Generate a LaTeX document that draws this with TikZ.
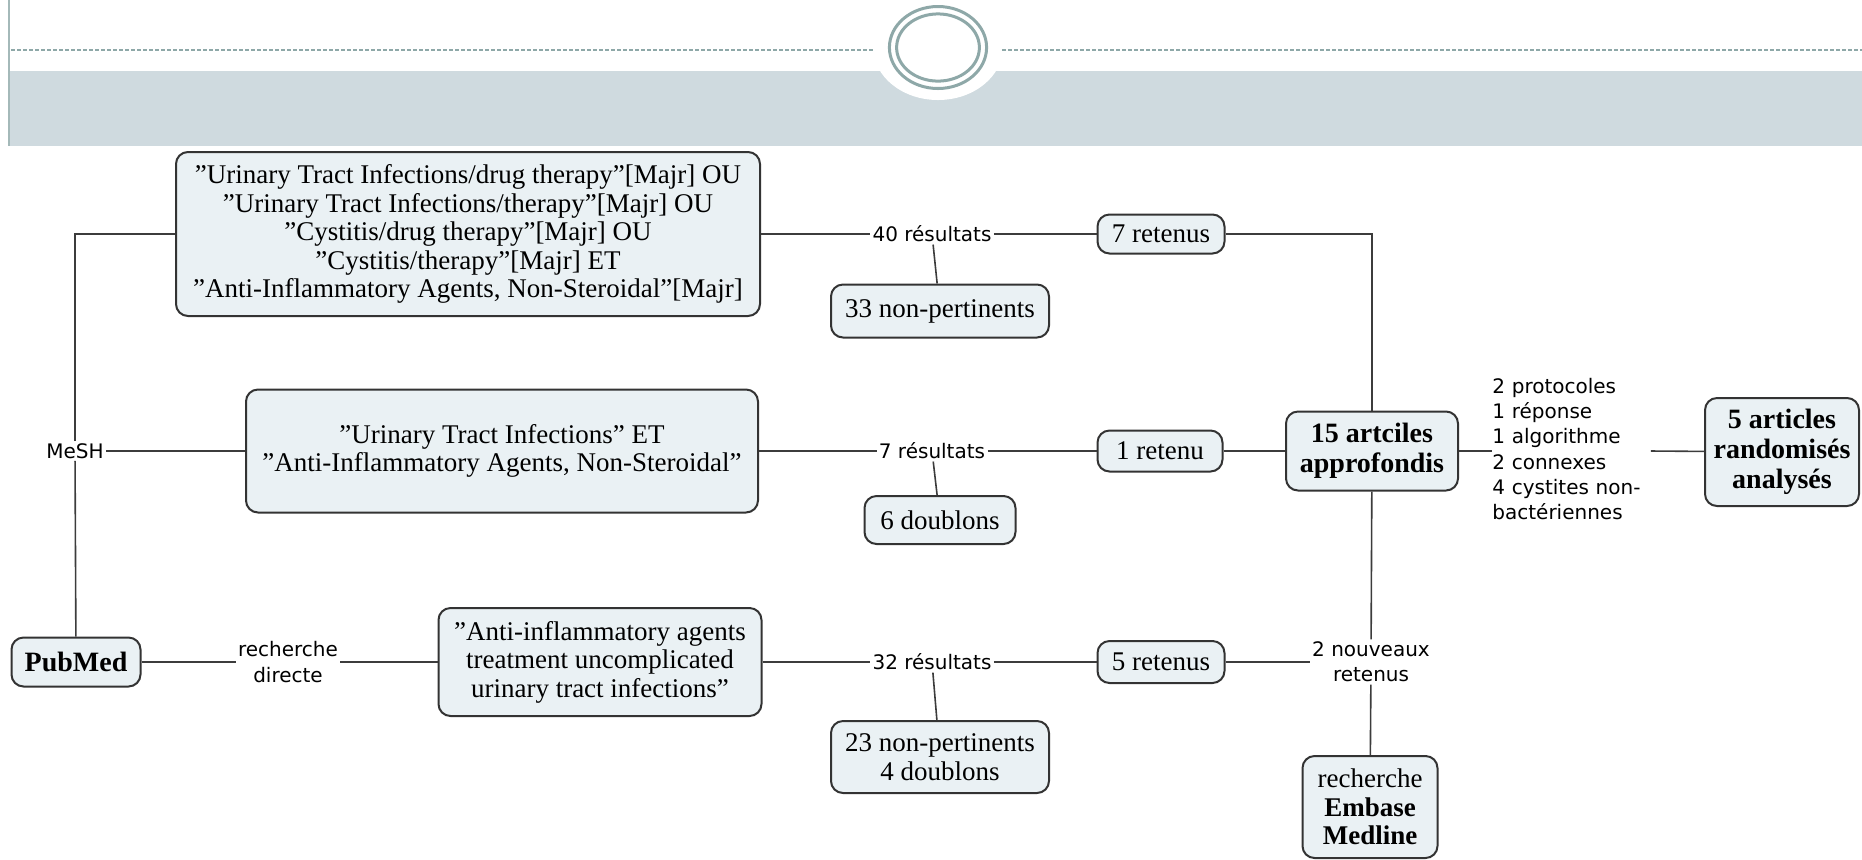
\documentclass[tikz,border=0pt]{standalone}
\usepackage{fontspec}
\setmainfont{Liberation Serif}
\newfontfamily\linkfont{DejaVu Sans}
\usetikzlibrary{positioning}

\definecolor{boxfill}{HTML}{EAF1F4}
\definecolor{boxline}{HTML}{333333}
\definecolor{bandgray}{HTML}{CFDADF}
\definecolor{ringgray}{HTML}{8EA8A8}
\definecolor{linkgray}{HTML}{3C3C3C}

\tikzset{
  concept/.style={draw=boxline,fill=boxfill,rounded corners=6pt,line width=1pt,
    align=center,inner sep=2pt,font=\fontsize{13.5}{14.2}\selectfont},
  keyconcept/.style={concept,font=\fontsize{14}{15}\selectfont\bfseries},
  boxsize/.style 2 args={minimum width=#1,minimum height=#2},
  linkword/.style={font=\linkfont\fontsize{10}{12.6}\selectfont,inner sep=1pt,align=center},
  connector/.style={draw=linkgray,line width=0.8pt}
}

\begin{document}
\begin{tikzpicture}[x=0.5pt,y=-0.5pt]

\useasboundingbox (0,0) rectangle (1862,859);

% header
\fill[bandgray] (9,71) rectangle (1862,146);
\fill[white] (938,47) ellipse [x radius=32.5pt,y radius=26.5pt];
\draw[ringgray,line width=1pt,dash pattern=on 2pt off 1pt] (11,50) -- (873,50);
\draw[ringgray,line width=1pt,dash pattern=on 2pt off 1pt] (1002,50) -- (1862,50);
\draw[ringgray!80,line width=0.6pt] (9,0) -- (9,146);
\draw[ringgray,line width=1.5pt] (938,47.5) ellipse [x radius=24.3pt,y radius=20.5pt];
\draw[ringgray,line width=1.5pt] (938,47.5) ellipse [x radius=20.7pt,y radius=16.8pt];

% sources
\node[keyconcept,boxsize={64.5pt}{24.5pt}] (pubmed) at (76,662) {PubMed};
\node[linkword] (mesh) at (75,451) {MeSH};
\node[linkword] (direct) at (288,662) {recherche\\directe};

% requetes
\node[concept,boxsize={292pt}{82pt}] (q1) at (468,234)
  {”Urinary Tract Infections/drug therapy”[Majr] OU\\
   ”Urinary Tract Infections/therapy”[Majr] OU\\
   ”Cystitis/drug therapy”[Majr] OU\\
   ”Cystitis/therapy”[Majr] ET\\
   ”Anti-Inflammatory Agents, Non-Steroidal”[Majr]};
\node[concept,boxsize={256pt}{61.5pt}] (q2) at (502,451)
  {”Urinary Tract Infections” ET\\
   ”Anti-Inflammatory Agents, Non-Steroidal”};
\node[concept,boxsize={161.5pt}{54pt}] (q3) at (600,662)
  {”Anti-inflammatory agents\\
   treatment uncomplicated\\
   urinary tract infections”};

% resultats
\node[linkword] (res40) at (932,234) {40 résultats};
\node[linkword] (res7) at (932,451) {7 résultats};
\node[linkword] (res32) at (932,662) {32 résultats};

\node[concept,boxsize={109pt}{26.5pt}] (out33) at (940,311) {33 non-pertinents};
\node[concept,boxsize={75.5pt}{24pt}] (out6) at (940,520) {6 doublons};
\node[concept,boxsize={109pt}{36pt}] (out23) at (940,757) {23 non-pertinents\\4 doublons};

\node[concept,boxsize={63.5pt}{19.5pt}] (keep7) at (1161,234) {7 retenus};
\node[concept,boxsize={62.5pt}{20.5pt}] (keep1) at (1160,451) {1 retenu};
\node[concept,boxsize={63.5pt}{21pt}] (keep5) at (1161,662) {5 retenus};

% synthese
\node[keyconcept,boxsize={86pt}{39.5pt}] (art15) at (1372,451) {15 artciles\\approfondis};
\node[linkword,text width=79pt,align=left,inner sep=0pt,anchor=west] (excl) at (1492,449)
  {2 protocoles\\1 réponse\\1 algorithme\\2 connexes\\4 cystites non-\\bactériennes};
\node[keyconcept,boxsize={77pt}{54pt}] (art5) at (1782,452) {5 articles\\randomisés\\analysés};
\node[linkword] (new2) at (1371,662) {2 nouveaux\\retenus};
\node[concept,boxsize={67.5pt}{51pt}] (embase) at (1370,807)
  {recherche\\\textbf{Embase}\\\textbf{Medline}};

% liens
\draw[connector] (pubmed) -- (mesh);
\draw[connector] (mesh) |- (q1);
\draw[connector] (mesh) -- (q2);
\draw[connector] (pubmed) -- (direct);
\draw[connector] (direct) -- (q3);

\draw[connector] (q1) -- (res40);
\draw[connector] (res40) -- (keep7);
\draw[connector] (res40) -- (out33);
\draw[connector] (q2) -- (res7);
\draw[connector] (res7) -- (keep1);
\draw[connector] (res7) -- (out6);
\draw[connector] (q3) -- (res32);
\draw[connector] (res32) -- (keep5);
\draw[connector] (res32) -- (out23);

\draw[connector] (keep7) -| (art15);
\draw[connector] (keep1) -- (art15);
\draw[connector] (keep5) -- (new2);
\draw[connector] (art15) -- (new2);
\draw[connector] (new2) -- (embase);
\draw[connector] (art15) -- (art15 -| excl.west);
\draw[connector] (art15 -| excl.east) -- (art5);

\end{tikzpicture}
\end{document}
